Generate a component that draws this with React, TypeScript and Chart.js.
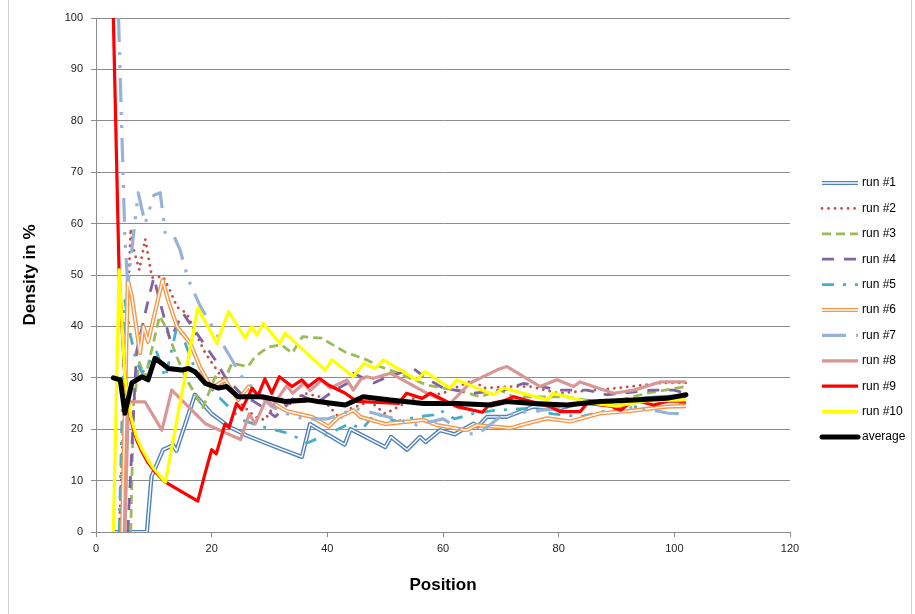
import React, { useEffect, useRef } from "react";
import { Chart, registerables } from "chart.js";
Chart.register(...registerables);

// ---------- data ----------
const seriesNames = ["run #1", "run #2", "run #3", "run #4", "run #5", "run #6", "run #7", "run #8", "run #9", "run #10", "average"];
const xTicks = [0, 20, 40, 60, 80, 100, 120];
const yTicks = [0, 10, 20, 30, 40, 50, 60, 70, 80, 90, 100];

const run1X = [3, 8.8, 9.6, 11.6, 12.8, 13.3, 13.9, 17.1, 20, 23, 26, 30, 35.6, 37, 43, 44, 50, 51, 53.8, 56, 57, 59.5, 62, 65.3, 66, 67.6, 71, 75.6, 80, 85, 90, 95, 102];
const run1Y = [0, 0, 10.8, 16, 16.6, 17, 15.8, 26.7, 23, 20.5, 18.8, 17, 14.6, 21, 17, 20, 16.5, 18.5, 16, 18.5, 17.5, 19.8, 19, 21.1, 20.5, 22.4, 22.4, 24.4, 24, 25.5, 25, 26, 26.5];

const run2X = [4, 6, 6.5, 7.5, 8.5, 9.3, 9.7, 11.6, 12.8, 14, 15.7, 17, 18.9, 21.7, 25, 27.5, 29.2, 31.8, 33, 36, 38.8, 42.2, 44, 47.4, 50, 55, 60, 65.3, 67, 71.6, 75.1, 80, 85, 90, 97.6, 102];
const run2Y = [0, 59, 55, 51, 57, 52, 49.5, 49.7, 47, 43.8, 42.5, 39.3, 34.8, 30.2, 25, 22.4, 21.8, 26.3, 24.5, 27, 26.3, 22.1, 24, 25.4, 23, 26, 27, 29.6, 28, 28.3, 28.3, 27, 27.5, 28, 29, 29];

const run3X = [6, 6.5, 7.5, 8.5, 11, 12, 14, 15.7, 18.5, 20.6, 22, 23.5, 26.3, 27.5, 29.8, 32.1, 33.9, 35.7, 39, 43.1, 46.8, 49.1, 52, 57.2, 60, 63, 66.4, 69.9, 72.2, 81.4, 88.3, 95.3, 102];
const run3Y = [0, 25, 33, 30, 42, 40, 34, 29.6, 24.2, 30.2, 29, 32.8, 32.2, 34.1, 36, 36.4, 34.8, 38, 37.7, 35, 33.5, 32.2, 31, 28.6, 28, 27.5, 26.3, 27.6, 26.3, 26.3, 25, 27, 28.3];

const run4X = [5.5, 7, 9, 10, 11, 12.2, 12.8, 15, 17.4, 20.6, 22.3, 25, 28.7, 31, 35, 38, 41.3, 43.4, 44.5, 48, 50, 54.9, 57, 60, 65, 70.5, 73.9, 80.3, 84.9, 88.3, 96, 99.9, 102];
const run4Y = [0, 35, 45, 49.5, 45, 40, 37.4, 42.6, 38.7, 33.5, 30.2, 27, 24.4, 22.4, 27, 25, 27.6, 28.9, 30.9, 29, 30, 31.8, 30, 28, 27, 27.6, 28.9, 27.6, 27.6, 26.7, 27.6, 27.6, 27];

const run5X = [4, 5, 6, 7, 8, 10.5, 12, 14, 15, 17, 20.6, 22.9, 25.2, 28.7, 33.3, 35.6, 36.5, 40, 43.9, 46, 48.3, 52, 55.5, 58.4, 59.5, 62, 65, 69.3, 74, 79, 83.7, 88, 92, 96, 102];
const run5Y = [0, 45, 38, 33, 31, 35, 30, 40, 38, 32, 27, 24.4, 21.8, 20.5, 19.2, 17.9, 17.3, 19, 21.1, 20, 23.1, 21.5, 22.4, 22.8, 23.7, 22, 23, 23.7, 24, 23, 22.4, 23.5, 24.5, 24, 25];

const run6X = [4.5, 5.5, 6.2, 7.6, 8.2, 9, 11.5, 12.5, 14, 16.3, 18, 20, 22.3, 24.6, 26.4, 27, 30, 33, 37.3, 40.2, 42, 43.4, 44.5, 45.7, 50, 56.6, 59, 64.1, 65.9, 71.6, 74.5, 78, 82, 87.2, 92, 98.7, 102];
const run6Y = [0, 49, 45.8, 34.8, 40, 37, 49, 45, 40, 36.7, 32, 28, 29.6, 25.7, 28.3, 27, 25.5, 23.5, 22.4, 20.5, 22.4, 23.1, 23.7, 22.4, 21, 21.8, 20.8, 19.8, 20.8, 20.2, 21.1, 22.1, 21.5, 23.1, 23.5, 24.4, 24.5];

const run7X = [3.9, 5, 5.5, 7.3, 8.5, 10, 11.1, 12, 13.5, 14.5, 16, 18, 23.5, 25.2, 28, 30.4, 33, 36, 40, 45, 52.6, 55.5, 60, 64.1, 66, 70, 75, 80, 85, 90, 95, 99, 102];
const run7Y = [100, 57, 48, 66, 60, 65.5, 66, 58, 57.5, 55, 49, 44, 33.5, 30.2, 27, 24.4, 23, 22, 22, 24, 21.8, 20.8, 22, 19.2, 19, 22.5, 23.5, 24, 25, 24.5, 24, 23.1, 23];

const run8X = [5, 5.6, 8.5, 11.4, 13.1, 19, 25, 26.5, 27.5, 29.5, 30.5, 33, 34, 36, 37, 39, 40.5, 43.4, 44.5, 45.7, 46.8, 48, 50.9, 57.2, 61.2, 64.7, 69.3, 71, 76.8, 79.7, 82.6, 83.7, 89.5, 93, 97.6, 102];
const run8Y = [0, 25.3, 25.3, 19.8, 27.6, 21, 18, 23, 21, 26, 24.5, 28.5, 27, 29, 27.5, 29.5, 28, 29.6, 27.6, 29.6, 30.2, 29.9, 30.9, 27, 25, 29, 31.5, 32.2, 28.3, 29.6, 28.3, 29.2, 27, 27.6, 29.2, 29.2];

const run9X = [3, 4, 5, 6, 7, 8, 9, 10, 11, 12, 17.6, 19, 20, 20.8, 22.3, 23, 24.3, 25.2, 27, 28, 29.2, 30.4, 31.7, 33.9, 35.6, 36.7, 38.6, 40.2, 43.1, 45.1, 52.3, 53.7, 56.4, 57.8, 62.4, 66.8, 68.2, 70.5, 72.2, 78.5, 80.3, 83.7, 84.9, 89, 90.7, 93, 96.4, 99, 102];
const run9Y = [100, 50, 30, 22, 18, 15.5, 13.5, 12, 10.8, 9.7, 6, 12, 16, 15.2, 21, 20.3, 25, 23.8, 28, 26.5, 29.8, 27, 30.2, 28.3, 29.6, 28.3, 29.9, 28.6, 27, 25.4, 25, 27, 26, 27, 24.4, 23.3, 25, 25.5, 26.3, 24.4, 23.4, 23.4, 25, 24.5, 23.7, 25.7, 24.7, 25.5, 25.4];

const run10X = [3, 4, 5, 6, 7, 8, 9, 10, 11, 12, 17.6, 20.9, 22.9, 25.8, 26.9, 27.8, 28.9, 31.8, 32.7, 39.6, 40.8, 44.5, 46.3, 48.3, 49.7, 55.5, 56.9, 61.2, 62.4, 68.7, 70.5, 78, 79.1, 86, 90, 95, 102];
const run10Y = [0, 51, 30, 22.5, 18.5, 16, 14, 12.3, 11, 9.7, 43.6, 36.7, 42.9, 37.7, 40, 38.3, 40.6, 36.7, 38.7, 31.5, 33.5, 30.2, 32.8, 31.8, 33.5, 29.6, 31.2, 28, 29.6, 26.7, 28, 25.7, 27, 25, 24.5, 25.5, 25.7];

const avgX = [3, 4.2, 5, 6.2, 7.9, 9, 10.2, 11.4, 12.5, 14.8, 16, 17.1, 18.9, 21.2, 22.6, 24.6, 28.7, 32.7, 36.7, 38.4, 43.1, 46.2, 50.9, 56.6, 62.4, 68.2, 71, 75.6, 81.4, 87.2, 93, 98.7, 102];
const avgY = [30, 29.6, 23.1, 29, 30.2, 29.6, 33.8, 32.8, 31.8, 31.5, 31.8, 31.2, 28.9, 28, 28.3, 26.3, 26.3, 25.4, 25.7, 25.4, 24.7, 26.3, 25.7, 25, 25, 24.7, 25.4, 25, 24.7, 25.4, 25.7, 26, 26.7];

// ---------- styles ----------
type Style = { color: string; width: number; dash: number[]; cap: CanvasLineCap; double?: boolean };
const styles: Style[] = [
  { color: "#4F81BD", width: 4.2, dash: [], cap: "butt", double: true },
  { color: "#C0504D", width: 2.8, dash: [0.01, 6.5], cap: "round" },
  { color: "#9BBB59", width: 2.8, dash: [9, 5], cap: "butt" },
  { color: "#8064A2", width: 2.8, dash: [12, 10], cap: "butt" },
  { color: "#4BACC6", width: 2.8, dash: [12, 9, 3, 9], cap: "butt" },
  { color: "#F79646", width: 4.2, dash: [], cap: "butt", double: true },
  { color: "#95B3D7", width: 3.2, dash: [24, 10, 3, 10, 3, 10], cap: "butt" },
  { color: "#D99694", width: 3.2, dash: [], cap: "butt" },
  { color: "#FF0000", width: 3.2, dash: [], cap: "butt" },
  { color: "#FFFF00", width: 3.2, dash: [], cap: "butt" },
  { color: "#000000", width: 5, dash: [], cap: "round" },
];

const FONT = "'Liberation Sans', Arial, sans-serif";

export default function App() {
  const ref = useRef<HTMLCanvasElement>(null);

  useEffect(() => {
    if (!ref.current) return;
    const xs = [run1X, run2X, run3X, run4X, run5X, run6X, run7X, run8X, run9X, run10X, avgX];
    const ys = [run1Y, run2Y, run3Y, run4Y, run5Y, run6Y, run7Y, run8Y, run9Y, run10Y, avgY];
    const N = seriesNames.length;
    const datasets: any[] = [];
    seriesNames.forEach((name, i) => {
      const st = styles[i];
      const data = xs[i].map((x, j) => ({ x, y: ys[i][j] }));
      datasets.push({
        label: name,
        data,
        showLine: true,
        borderColor: st.color,
        backgroundColor: st.color,
        borderWidth: st.width,
        borderDash: st.dash,
        borderCapStyle: st.cap,
        borderJoinStyle: "round",
        pointRadius: 0,
        pointHoverRadius: 0,
        tension: 0,
        order: 2 * (N - i),
      });
      if (st.double) {
        datasets.push({
          label: name + " inner",
          data,
          showLine: true,
          borderColor: "#ffffff",
          borderWidth: 1.4,
          borderJoinStyle: "round",
          pointRadius: 0,
          pointHoverRadius: 0,
          tension: 0,
          order: 2 * (N - i) - 1,
        });
      }
    });

    const legendPlugin = {
      id: "customLegend",
      afterDraw(chart: any) {
        const ctx = chart.ctx as CanvasRenderingContext2D;
        ctx.save();
        // outer chart border
        ctx.strokeStyle = "#d0d0d0";
        ctx.lineWidth = 1;
        ctx.beginPath();
        ctx.moveTo(8.5, 0);
        ctx.lineTo(8.5, 614);
        ctx.moveTo(911.5, 0);
        ctx.lineTo(911.5, 614);
        ctx.stroke();

        seriesNames.forEach((name, i) => {
          const st = styles[i];
          const y = 183 + i * 25.4;
          ctx.save();
          ctx.strokeStyle = st.color;
          ctx.lineWidth = st.width;
          ctx.setLineDash(st.dash);
          ctx.lineCap = st.cap;
          ctx.beginPath();
          ctx.moveTo(822, y);
          ctx.lineTo(858, y);
          ctx.stroke();
          if (st.double) {
            ctx.strokeStyle = "#ffffff";
            ctx.lineWidth = 1.4;
            ctx.setLineDash([]);
            ctx.beginPath();
            ctx.moveTo(822, y);
            ctx.lineTo(858, y);
            ctx.stroke();
          }
          ctx.restore();
          ctx.fillStyle = "#000";
          ctx.font = `12px ${FONT}`;
          ctx.textBaseline = "middle";
          ctx.textAlign = "left";
          ctx.fillText(name, 862, y);
        });
        ctx.restore();
      },
    };

    const chart = new Chart(ref.current, {
      type: "scatter",
      data: { datasets },
      plugins: [legendPlugin],
      options: {
        animation: false,
        responsive: false,
        events: [],
        layout: { padding: { left: 0, right: 125, top: 18, bottom: 0 } },
        plugins: { legend: { display: false }, tooltip: { enabled: false } },
        scales: {
          x: {
            type: "linear",
            min: 0,
            max: 120,
            afterFit: (s: any) => { s.height = 82; },
            afterBuildTicks: (s: any) => { s.ticks = xTicks.map((v) => ({ value: v })); },
            grid: { drawOnChartArea: false, color: "#8c8c8c", tickLength: 5 },
            border: { color: "#8c8c8c" },
            ticks: { color: "#222", font: { family: FONT, size: 11 }, padding: 5, maxRotation: 0 },
            title: { display: true, text: "Position", color: "#000", font: { family: FONT, size: 17, weight: "bold" }, padding: { top: 0, bottom: 18 } },
          },
          y: {
            type: "linear",
            min: 0,
            max: 100,
            afterFit: (s: any) => { s.width = 96; },
            afterBuildTicks: (s: any) => { s.ticks = yTicks.map((v) => ({ value: v })); },
            grid: { color: "#8c8c8c", tickLength: 5 },
            border: { color: "#8c8c8c" },
            ticks: { color: "#222", font: { family: FONT, size: 11 }, padding: 8 },
            title: { display: true, text: "Density in %", color: "#000", font: { family: FONT, size: 17, weight: "bold" }, padding: { top: 20, bottom: 0 } },
          },
        },
      } as any,
    });
    return () => chart.destroy();
  }, []);

  return (
    <div style={{ position: "absolute", left: 0, top: 0, width: 915, height: 614, background: "#fff" }}>
      <canvas ref={ref} width={915} height={614} style={{ display: "block" }} />
    </div>
  );
}
